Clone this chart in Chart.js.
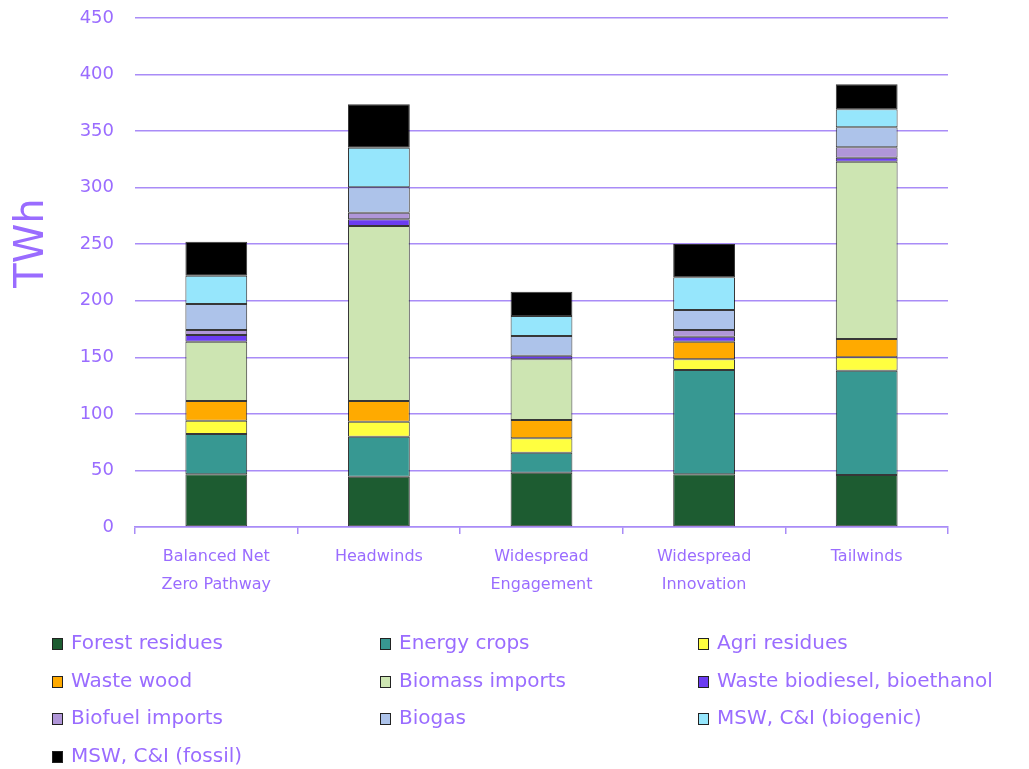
<!DOCTYPE html>
<html>
<head>
<meta charset="utf-8">
<script src="https://cdn.jsdelivr.net/npm/chart.js@4"></script>
<style>
  body { margin: 0; background: #fff; }
</style>
</head>
<body>
<canvas id="bioChart" width="1029" height="769"></canvas>
<script>
var scenarios = [
  ["Balanced Net", "Zero Pathway"],
  "Headwinds",
  ["Widespread", "Engagement"],
  ["Widespread", "Innovation"],
  "Tailwinds"
];

var forestResidues  = [46.6, 44.5, 48.0, 46.6, 46.0];
var energyCrops     = [35.6, 35.3, 17.7, 92.2, 92.2];
var agriResidues    = [11.8, 13.3, 12.7, 9.5, 11.8];
var wasteWood       = [17.4, 18.3, 16.2, 15.5, 16.2];
var biomassImports  = [52.4, 154.7, 53.7, 0, 156.8];
var wasteBiodiesel  = [6.0, 5.9, 3.2, 4.5, 3.5];
var biofuelImports  = [4.4, 5.9, 0, 5.9, 9.2];
var biogas          = [23.0, 22.5, 17.4, 17.7, 17.7];
var mswBiogenic     = [25.0, 35.0, 17.7, 28.9, 15.9];
var mswFossil       = [30.0, 38.3, 21.4, 29.4, 22.1];

var yTicks = [0, 50, 100, 150, 200, 250, 300, 350, 400, 450];

var seriesNames = [
  "Forest residues", "Energy crops", "Agri residues",
  "Waste wood", "Biomass imports", "Waste biodiesel, bioethanol",
  "Biofuel imports", "Biogas", "MSW, C&I (biogenic)",
  "MSW, C&I (fossil)"
];
var seriesValues = [
  forestResidues, energyCrops, agriResidues,
  wasteWood, biomassImports, wasteBiodiesel,
  biofuelImports, biogas, mswBiogenic, mswFossil
];
var barColors = [
  "#1d5c31",
  "#379892",
  "#ffff40",
  "#ffaa00",
  "#cde5b2",
  "#6b3cf2",
  "#b096d8",
  "#adc3ea",
  "#96e6fc",
  "#000000"
];

var purple = "#9a6cff";
var gridPurple = "#a98cf7";
var fontFamily = "'DejaVu Sans', sans-serif";

var datasets = [];
for (var i = 0; i < seriesNames.length; i++) {
  datasets.push({
    label: seriesNames[i],
    data: seriesValues[i],
    backgroundColor: barColors[i],
    borderColor: "rgba(20,20,20,0.85)",
    borderWidth: 1,
    borderSkipped: false
  });
}

// legend in three fixed columns + the TWh title, like the original
const extras = {
  id: 'extras',
  afterDraw: (chart) => {
    const {ctx} = chart;
    const colX = [52, 380, 698];
    const rowY = [644, 682, 719, 757];
    ctx.save();
    ctx.font = "20px " + fontFamily;
    ctx.textBaseline = "middle";
    chart.data.datasets.forEach((ds, i) => {
      const x = colX[i % 3];
      const y = rowY[Math.floor(i / 3)];
      ctx.fillStyle = ds.backgroundColor;
      ctx.fillRect(x, y - 6, 11, 12);
      ctx.strokeStyle = "#222";
      ctx.lineWidth = 1;
      ctx.strokeRect(x + 0.5, y - 5.5, 10, 11);
      ctx.fillStyle = purple;
      ctx.fillText(ds.label, x + 19, y);
    });
    ctx.restore();

    ctx.save();
    ctx.translate(33, 243);
    ctx.rotate(-Math.PI / 2);
    ctx.font = "40px " + fontFamily;
    ctx.fillStyle = purple;
    ctx.textAlign = "center";
    ctx.textBaseline = "middle";
    ctx.fillText("TWh", 0, 0);
    ctx.restore();
  }
};

new Chart("bioChart", {
  type: "bar",
  plugins: [extras],
  data: {
    labels: scenarios,
    datasets: datasets
  },
  options: {
    responsive: false,
    animation: false,
    layout: { padding: { top: 18, right: 81, left: 0, bottom: 0 } },
    datasets: {
      bar: { categoryPercentage: 1, barPercentage: 0.38 }
    },
    plugins: {
      legend: { display: false },
      tooltip: { enabled: false }
    },
    scales: {
      x: {
        stacked: true,
        afterFit: (scale) => { scale.height = 242; },
        grid: {
          offset: true,
          drawOnChartArea: false,
          drawTicks: true,
          tickLength: 7,
          color: gridPurple,
          lineWidth: 1.5
        },
        border: { color: gridPurple, width: 1.5 },
        ticks: {
          color: purple,
          font: { family: fontFamily, size: 16, lineHeight: 1.75 },
          padding: 9,
          maxRotation: 0
        }
      },
      y: {
        stacked: true,
        min: 0,
        max: 450,
        afterFit: (scale) => { scale.width = 135; },
        afterBuildTicks: (scale) => {
          scale.ticks = yTicks.map(v => ({ value: v }));
        },
        grid: {
          color: gridPurple,
          lineWidth: 1.5,
          drawTicks: true,
          tickLength: 20,
          tickColor: "rgba(0,0,0,0)"
        },
        border: { display: false },
        ticks: {
          color: purple,
          font: { family: fontFamily, size: 18 },
          padding: 1
        }
      }
    }
  }
});
</script>
</body>
</html>
